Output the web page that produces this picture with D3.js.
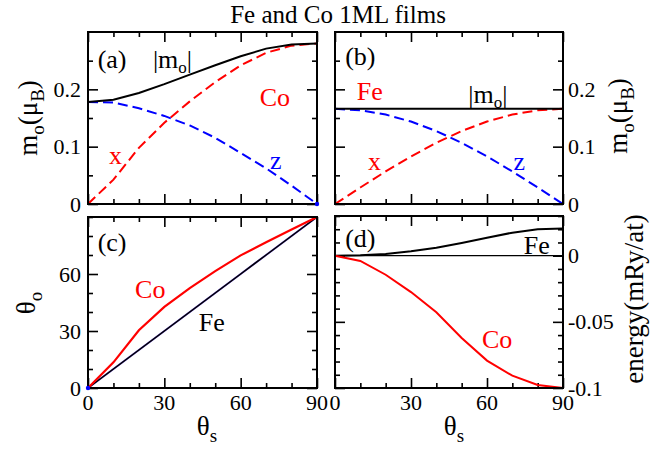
<!DOCTYPE html>
<html>
<head>
<meta charset="utf-8">
<script src="https://cdn.jsdelivr.net/npm/d3@7"></script>
<style>
  html, body { margin: 0; padding: 0; background: #fff; }
  svg { display: block; }
</style>
</head>
<body>
<svg id="chart" width="669" height="451"></svg>
<script>
// Field angle theta_s (degrees), shared by every panel
const thetaS = [0, 10, 20, 30, 40, 50, 60, 70, 80, 90];

// (a) Co orbital moment: magnitude and x / z components (mu_B)
const coMag = [0.178, 0.182, 0.1936, 0.209, 0.2256, 0.242, 0.2576, 0.271, 0.278, 0.280];
const coX   = [0, 0.0425, 0.098, 0.1417, 0.179, 0.2127, 0.2418, 0.2637, 0.2762, 0.280];
const coZ   = [0.178, 0.177, 0.167, 0.1536, 0.137, 0.1155, 0.089, 0.0623, 0.032, 0];

// (b) Fe orbital moment (mu_B)
const feMag = [0.166, 0.166, 0.166, 0.166, 0.166, 0.166, 0.166, 0.166, 0.166, 0.166];
const feX   = [0, 0.0288, 0.0568, 0.083, 0.1067, 0.1272, 0.1438, 0.156, 0.1635, 0.166];
const feZ   = [0.166, 0.1635, 0.156, 0.1438, 0.1272, 0.1067, 0.083, 0.0568, 0.0288, 0];

// (c) orbital moment angle theta_o (degrees)
const coThetaO = [0, 13.5, 30.4, 42.7, 52.6, 61.5, 69.8, 76.7, 83.4, 90];
const feThetaO = [0, 10, 20, 30, 40, 50, 60, 70, 80, 90];

// (d) anisotropy energy (mRy/atom)
const feEnergy = [0, 0.0003, 0.0013, 0.0033, 0.006, 0.0096, 0.0136, 0.0174, 0.0200, 0.0206];
const coEnergy = [0, -0.004, -0.0144, -0.0275, -0.0427, -0.0622, -0.0793, -0.0907, -0.0977, -0.1];

// Tick values
const xMajor = [0, 30, 60, 90];
const xMinor = [10, 20, 40, 50, 70, 80];
const momentMajor = [0, 0.1, 0.2];
const momentMinor = [0.05, 0.15, 0.25];
const angleMajor = [0, 30, 60];
const angleMinor = [10, 20, 40, 50, 70, 80, 90];
const energyMajor = [0, -0.05, -0.1];
const energyMinor = [0.03, 0.02, 0.01, -0.01, -0.02, -0.03, -0.04, -0.06, -0.07, -0.08, -0.09];

const svg = d3.select("#chart");
const SERIF = "'Liberation Serif', 'Times New Roman', serif";
const RED = "#ff0000", BLUE = "#0000ff", BLACK = "#000000";
const tickFont = 22, labelFont = 26, axisFont = 27;
const DASH = "10,5";

const fmt = v => (v === 0 ? "0" : String(v));

function makePanel(box, yDomain, yMajor, yMinor, opts) {
  const x = d3.scaleLinear().domain([0, 90]).range([box.x0, box.x1]);
  const y = d3.scaleLinear().domain(yDomain).range([box.y1, box.y0]);
  const g = svg.append("g");

  // inward ticks on all four sides
  const sides = [
    { ax: () => d3.axisBottom(x), t: `translate(0,${box.y1})`, vals: [xMajor, xMinor] },
    { ax: () => d3.axisTop(x), t: `translate(0,${box.y0})`, vals: [xMajor, xMinor] },
    { ax: () => d3.axisLeft(y), t: `translate(${box.x0},0)`, vals: [yMajor, yMinor] },
    { ax: () => d3.axisRight(y), t: `translate(${box.x1},0)`, vals: [yMajor, yMinor] }
  ];
  sides.forEach(s => {
    [[s.vals[0], 10], [s.vals[1], 5]].forEach(([vals, len]) => {
      const a = g.append("g").attr("transform", s.t)
        .call(s.ax().tickValues(vals).tickSize(-len).tickFormat(""));
      a.select(".domain").remove();
      a.selectAll("text").remove();
      a.selectAll("line").attr("stroke", BLACK).attr("stroke-width", 1.6);
    });
  });

  // tick labels
  if (opts.xLabels) {
    g.selectAll(null).data(xMajor).enter().append("text")
      .attr("x", d => x(d)).attr("y", box.y1 + 22)
      .attr("text-anchor", "middle").attr("font-size", tickFont)
      .text(fmt);
  }
  if (opts.yLabelSide === "left") {
    g.selectAll(null).data(yMajor).enter().append("text")
      .attr("x", box.x0 - 7).attr("y", d => y(d) + 7.5)
      .attr("text-anchor", "end").attr("font-size", tickFont)
      .text(fmt);
  } else {
    g.selectAll(null).data(yMajor).enter().append("text")
      .attr("x", box.x1 + 5).attr("y", d => y(d) + 7.5)
      .attr("text-anchor", "start").attr("font-size", tickFont)
      .text(fmt);
  }

  const body = g.append("g");
  g.append("rect")
    .attr("x", box.x0).attr("y", box.y0)
    .attr("width", box.x1 - box.x0).attr("height", box.y1 - box.y0)
    .attr("fill", "none").attr("stroke", BLACK).attr("stroke-width", 2);

  const line = (xs, ys, color, width, dash) => {
    const pts = xs.map((d, i) => [d, ys[i]]);
    body.append("path")
      .attr("d", d3.line().x(d => x(d[0])).y(d => y(d[1]))(pts))
      .attr("fill", "none").attr("stroke", color)
      .attr("stroke-width", width)
      .attr("stroke-dasharray", dash || null);
  };
  const dot = (tx, ty, color) =>
    g.append("circle").attr("cx", x(tx)).attr("cy", y(ty)).attr("r", 2.2).attr("fill", color);
  const label = (tx, ty, str, color, size) =>
    g.append("text").attr("x", x(tx)).attr("y", y(ty))
      .attr("font-size", size || labelFont).attr("fill", color || BLACK).text(str);
  const magLabel = (tx, ty) => {
    const t = g.append("text").attr("x", x(tx)).attr("y", y(ty))
      .attr("font-size", labelFont).attr("fill", BLACK);
    t.append("tspan").text("|m");
    t.append("tspan").attr("font-size", 17).attr("dy", 5).text("o");
    t.append("tspan").attr("dy", -5).text("|");
  };
  return { x, y, line, dot, label, magLabel, g };
}

const colLeft = { x0: 88, x1: 317 };
const colRight = { x0: 335, x1: 563 };
const rowTop = { y0: 32, y1: 204 };
const rowBottom = { y0: 217, y1: 388 };

// (a) Co moments
const pa = makePanel({ ...colLeft, ...rowTop }, [0, 0.3], momentMajor, momentMinor, { yLabelSide: "left" });
pa.line(thetaS, coX, RED, 2, DASH);
pa.line(thetaS, coZ, BLUE, 2, DASH);
pa.line(thetaS, coMag, BLACK, 2);
pa.dot(thetaS[thetaS.length - 1], coZ[coZ.length - 1], BLUE);
pa.label(3.8, 0.2375, "(a)");
pa.magLabel(25.5, 0.2375);
pa.label(67.5, 0.1705, "Co", RED);
pa.label(8.3, 0.069, "x", RED);
pa.label(71.5, 0.061, "z", BLUE);

// (b) Fe moments
const pb = makePanel({ ...colRight, ...rowTop }, [0, 0.3], momentMajor, momentMinor, { yLabelSide: "right" });
pb.line(thetaS, feX, RED, 2, DASH);
pb.line(thetaS, feZ, BLUE, 2, DASH);
pb.line(thetaS, feMag, BLACK, 2);
pb.label(4, 0.242, "(b)");
pb.label(8.6, 0.182, "Fe", RED);
pb.magLabel(52.6, 0.1765);
pb.label(13, 0.059, "x", RED);
pb.label(70.5, 0.059, "z", BLUE);

// (c) orbital moment angle
const pc = makePanel({ ...colLeft, ...rowBottom }, [0, 90], angleMajor, angleMinor, { yLabelSide: "left", xLabels: true });
pc.line(thetaS, feThetaO, "#6a4fd0", 2.0);
pc.line(thetaS, feThetaO, BLACK, 1.5);
pc.line(thetaS, coThetaO, RED, 2.2);
pc.dot(feThetaO[0], feThetaO[0], BLUE);
pc.label(3.8, 72, "(c)");
pc.label(18.5, 47.5, "Co", RED);
pc.label(43.5, 30, "Fe");

// (d) energy
const pd = makePanel({ ...colRight, y0: 216, y1: 388 }, [-0.1, 0.03], energyMajor, energyMinor, { yLabelSide: "right", xLabels: true });
pd.line([0, 90], [0, 0], BLACK, 1.3);
pd.line(thetaS, feEnergy, BLACK, 2);
pd.line(thetaS, coEnergy, RED, 2);
pd.label(4, 0.0066, "(d)");
pd.label(74.5, 0.0016, "Fe");
pd.label(58, -0.070, "Co", RED);

// title
svg.append("text").attr("x", 338).attr("y", 23)
  .attr("text-anchor", "middle").attr("font-size", 25)
  .text("Fe and Co 1ML films");

// axis titles with subscripts
function subLabel(tx, ty, rot, parts) {
  const t = svg.append("text")
    .attr("transform", `translate(${tx},${ty}) rotate(${rot})`)
    .attr("text-anchor", "middle").attr("font-size", axisFont);
  let shifted = false;
  parts.forEach(p => {
    const s = t.append("tspan").text(p.t);
    if (p.sub && !shifted) { s.attr("dy", 7).attr("font-size", 19); shifted = true; }
    else if (!p.sub && shifted) { s.attr("dy", -7); shifted = false; }
    else if (p.sub) s.attr("font-size", 19);
  });
}
subLabel(37, 118, -90, [{ t: "m" }, { t: "o", sub: true }, { t: "(μ" }, { t: "B", sub: true }, { t: ")" }]);
subLabel(627, 116, -90, [{ t: "m" }, { t: "o", sub: true }, { t: "(μ" }, { t: "B", sub: true }, { t: ")" }]);
subLabel(35, 303, -90, [{ t: "θ" }, { t: "o", sub: true }]);
subLabel(207, 435, 0, [{ t: "θ" }, { t: "s", sub: true }]);
subLabel(454, 435, 0, [{ t: "θ" }, { t: "s", sub: true }]);
svg.append("text")
  .attr("transform", "translate(643,299) rotate(-90)")
  .attr("text-anchor", "middle").attr("font-size", axisFont)
  .text("energy(mRy/at)");

// every label in the serif face
svg.selectAll("text, tspan").style("font-family", SERIF);
</script>
</body>
</html>
